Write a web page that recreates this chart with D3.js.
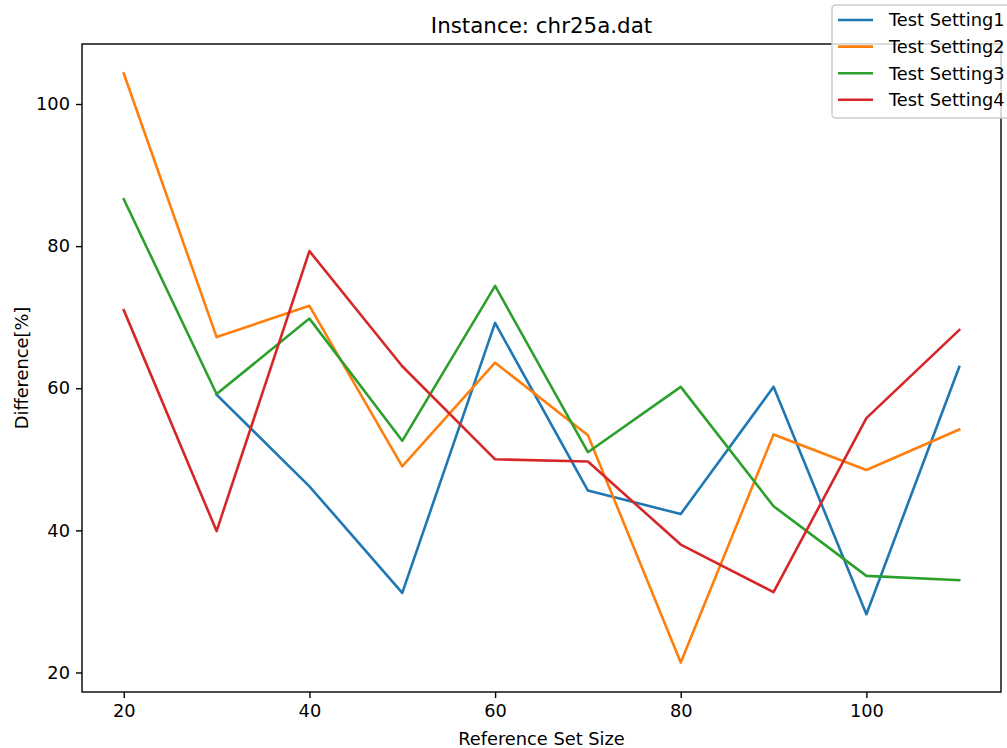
<!DOCTYPE html>
<html>
<head>
<meta charset="utf-8">
<script src="https://cdn.jsdelivr.net/npm/d3@7"></script>
<style>
  html, body { margin: 0; padding: 0; background: #fff; }
  svg { display: block; font-family: "DejaVu Sans", sans-serif; }
</style>
</head>
<body>
<svg id="chart" width="1007" height="748"></svg>
<script>
const sizes = [20, 30, 40, 50, 60, 70, 80, 90, 100, 110];
const setting1 = [null, 59.1, 46.2, 31.2, 69.2, 45.6, 42.3, 60.2, 28.2, 63.0];
const setting2 = [104.3, 67.2, 71.6, 49.0, 63.6, 53.4, 21.4, 53.5, 48.5, 54.2];
const setting3 = [86.6, 59.2, 69.8, 52.6, 74.4, 51.0, 60.2, 43.4, 33.6, 33.0];
const setting4 = [71.0, 39.9, 79.3, 63.1, 50.0, 49.7, 38.0, 31.3, 55.8, 68.2];
const seriesNames = ["Test Setting1", "Test Setting2", "Test Setting3", "Test Setting4"];
const seriesColors = ["#1f77b4", "#ff7f0e", "#2ca02c", "#d62728"];
const xTicks = [20, 40, 60, 80, 100];
const yTicks = [20, 40, 60, 80, 100];
const titleText = "Instance: chr25a.dat";
const xLabel = "Reference Set Size";
const yLabel = "Difference[%]";

const allSeries = [setting1, setting2, setting3, setting4];

const svg = d3.select("#chart");
const box = { left: 82, right: 1001, top: 44, bottom: 692 };

const xMin = d3.min(sizes), xMax = d3.max(sizes);
const xPad = (xMax - xMin) * 0.05;
const allVals = allSeries.flat().filter(v => v != null);
const yMin = d3.min(allVals), yMax = d3.max(allVals);
const yPad = (yMax - yMin) * 0.05;

const x = d3.scaleLinear().domain([xMin - xPad, xMax + xPad]).range([box.left, box.right]);
const y = d3.scaleLinear().domain([yMin - yPad, yMax + yPad]).range([box.bottom, box.top]);

const fontSize = 17.8;

// Lines
const line = d3.line()
  .defined(d => d.v != null)
  .x(d => x(d.s))
  .y(d => y(d.v));

allSeries.forEach((vals, i) => {
  const pts = sizes.map((s, j) => ({ s: s, v: vals[j] }));
  svg.append("path")
    .datum(pts)
    .attr("fill", "none")
    .attr("stroke", seriesColors[i])
    .attr("stroke-width", 2.6)
    .attr("stroke-linejoin", "round")
    .attr("stroke-linecap", "square")
    .attr("d", line);
});

// Axes
const xAxis = d3.axisBottom(x).tickValues(xTicks).tickSize(6).tickPadding(6).tickFormat(d3.format("d"));
const yAxis = d3.axisLeft(y).tickValues(yTicks).tickSize(6).tickPadding(6).tickFormat(d3.format("d"));

const gx = svg.append("g").attr("transform", `translate(0,${box.bottom})`).call(xAxis);
const gy = svg.append("g").attr("transform", `translate(${box.left},0)`).call(yAxis);
[gx, gy].forEach(g => {
  g.select(".domain").remove();
  g.selectAll(".tick line").attr("stroke", "#000").attr("stroke-width", 1.4);
  g.selectAll(".tick text")
    .attr("fill", "#000")
    .style("font-size", fontSize + "px")
    .style("font-family", "DejaVu Sans, sans-serif");
});

// Spines
svg.append("rect")
  .attr("x", box.left).attr("y", box.top)
  .attr("width", box.right - box.left).attr("height", box.bottom - box.top)
  .attr("fill", "none").attr("stroke", "#000").attr("stroke-width", 1.4);

// Title
svg.append("text")
  .attr("x", (box.left + box.right) / 2).attr("y", 33)
  .attr("text-anchor", "middle")
  .style("font-size", "21.4px")
  .text(titleText);

// X label
svg.append("text")
  .attr("x", (box.left + box.right) / 2).attr("y", 745)
  .attr("text-anchor", "middle")
  .style("font-size", fontSize + "px")
  .text(xLabel);

// Y label
svg.append("text")
  .attr("transform", `translate(27.5,${(box.top + box.bottom) / 2}) rotate(-90)`)
  .attr("text-anchor", "middle")
  .style("font-size", fontSize + "px")
  .text(yLabel);

// Legend
const lg = svg.append("g");
lg.append("rect")
  .attr("x", 832).attr("y", 5)
  .attr("width", 185).attr("height", 113)
  .attr("rx", 3.5)
  .attr("fill", "#fff").attr("fill-opacity", 0.8)
  .attr("stroke", "#cccccc").attr("stroke-width", 1.4);
seriesNames.forEach((name, i) => {
  const cy = 20 + i * 26.6;
  lg.append("line")
    .attr("x1", 838).attr("x2", 873)
    .attr("y1", cy).attr("y2", cy)
    .attr("stroke", seriesColors[i]).attr("stroke-width", 2.6);
  lg.append("text")
    .attr("x", 889).attr("y", cy)
    .attr("dy", "0.36em")
    .style("font-size", fontSize + "px")
    .text(name);
});
</script>
</body>
</html>
